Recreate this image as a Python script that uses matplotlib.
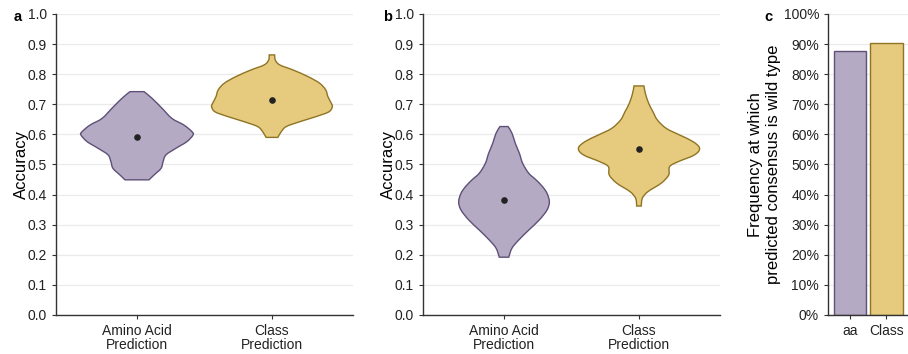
import numpy as np
import matplotlib.pyplot as plt
from matplotlib.path import Path
from matplotlib.patches import PathPatch
from matplotlib.ticker import PercentFormatter

plt.rcParams['font.family'] = ['Liberation Sans', 'DejaVu Sans']

groups = ['Amino Acid\nPrediction', 'Class\nPrediction']
fills = ['#b5aac3', '#e6ca7e']
edges = ['#5e5077', '#8f7424']

# violin outlines: (accuracy, half width in x units)
a_aa_y = [0.742, 0.720, 0.687, 0.653, 0.631, 0.609, 0.598, 0.576, 0.554, 0.532, 0.509, 0.487, 0.465, 0.449]
a_aa_w = [0.052, 0.111, 0.185, 0.259, 0.348, 0.407, 0.415, 0.370, 0.289, 0.215, 0.193, 0.178, 0.126, 0.089]
a_cl_y = [0.864, 0.847, 0.831, 0.814, 0.792, 0.770, 0.748, 0.725, 0.703, 0.692, 0.675, 0.659, 0.642, 0.626, 0.609, 0.590]
a_cl_w = [0.020, 0.025, 0.057, 0.156, 0.267, 0.353, 0.398, 0.415, 0.440, 0.447, 0.422, 0.326, 0.205, 0.106, 0.069, 0.044]
b_aa_y = [0.626, 0.604, 0.570, 0.537, 0.504, 0.471, 0.449, 0.426, 0.404, 0.376, 0.349, 0.316, 0.282, 0.249, 0.222, 0.192]
b_aa_w = [0.030, 0.059, 0.084, 0.114, 0.138, 0.183, 0.237, 0.286, 0.319, 0.336, 0.319, 0.262, 0.183, 0.109, 0.059, 0.035]
b_cl_y = [0.761, 0.737, 0.703, 0.675, 0.648, 0.620, 0.598, 0.576, 0.554, 0.532, 0.509, 0.493, 0.465, 0.438, 0.410, 0.388, 0.362]
b_cl_w = [0.037, 0.047, 0.072, 0.104, 0.136, 0.202, 0.301, 0.400, 0.449, 0.412, 0.289, 0.227, 0.220, 0.165, 0.067, 0.025, 0.017]

a_means = [0.592, 0.713]
b_means = [0.382, 0.551]

bar_labels = ['aa', 'Class']
bar_vals = [0.878, 0.905]

fig = plt.figure(figsize=(9.08, 3.54), dpi=100)
ax_a = fig.add_axes([0.0617, 0.1102, 0.327, 0.8503])
ax_b = fig.add_axes([0.4659, 0.1102, 0.327, 0.8503])
ax_c = fig.add_axes([0.912, 0.1102, 0.088, 0.8503])


def style(ax):
    for s in ['top', 'right']:
        ax.spines[s].set_visible(False)
    for s in ['left', 'bottom']:
        ax.spines[s].set_color('#333333')
        ax.spines[s].set_linewidth(1.0)
    ax.set_ylim(0, 1)
    ax.set_yticks(np.arange(0, 1.01, 0.1))
    ax.grid(axis='y', color='#ebebeb', lw=0.9)
    ax.set_axisbelow(True)
    ax.tick_params(length=3, width=0.8, color='#333333', labelsize=10, labelcolor='#222222')


def smooth_side(pts):
    # catmull-rom through the read points, as bezier segments
    verts, codes = [], []
    n = len(pts)
    for k in range(n - 1):
        p0 = pts[max(k - 1, 0)]
        p1 = pts[k]
        p2 = pts[k + 1]
        p3 = pts[min(k + 2, n - 1)]
        c1 = p1 + (p2 - p0) / 6
        c2 = p2 - (p3 - p1) / 6
        verts += [c1, c2, p2]
        codes += [Path.CURVE4] * 3
    return verts, codes


def violins(ax, outlines, means):
    for i, (ys, ws) in enumerate(outlines):
        ys = np.array(ys)
        ws = np.array(ws)
        right = np.column_stack([i + ws, ys])
        left = np.column_stack([i - ws, ys])[::-1]
        verts = [right[0]]
        codes = [Path.MOVETO]
        v, c = smooth_side(right)
        verts += v
        codes += c
        verts.append(left[0])
        codes.append(Path.LINETO)
        v, c = smooth_side(left)
        verts += v
        codes += c
        verts.append(right[0])
        codes.append(Path.CLOSEPOLY)
        ax.add_patch(PathPatch(Path(verts, codes), facecolor=fills[i], edgecolor=edges[i], lw=1.0))
    ax.scatter(range(len(means)), means, s=14, color='#222222', zorder=3)
    ax.set_xlim(-0.6, 1.6)
    ax.set_xticks(range(len(groups)))
    ax.set_xticklabels(groups, fontsize=10, linespacing=1.0)
    ax.set_yticklabels(['%.1f' % v for v in np.arange(0, 1.01, 0.1)])
    ax.set_ylabel('Accuracy', fontsize=12, labelpad=-1)


for ax in (ax_a, ax_b, ax_c):
    style(ax)

violins(ax_a, [(a_aa_y, a_aa_w), (a_cl_y, a_cl_w)], a_means)
violins(ax_b, [(b_aa_y, b_aa_w), (b_cl_y, b_cl_w)], b_means)

ax_c.bar(range(len(bar_vals)), bar_vals, width=0.9, color=fills, edgecolor=edges, lw=1.0)
ax_c.set_xlim(-0.6, 1.6)
ax_c.set_xticks(range(len(bar_labels)))
ax_c.set_xticklabels(bar_labels)
ax_c.yaxis.set_major_formatter(PercentFormatter(1.0, decimals=0))
ax_c.set_ylabel('Frequency at which\npredicted consensus is wild type', fontsize=12, labelpad=2)

fig.text(14 / 908, 1 - 17 / 354, 'a', fontsize=10.5, fontweight='bold', ha='left', va='center')
fig.text(383 / 908, 1 - 17 / 354, 'b', fontsize=10.5, fontweight='bold', ha='left', va='center')
fig.text(764 / 908, 1 - 17 / 354, 'c', fontsize=10.5, fontweight='bold', ha='left', va='center')

fig.savefig('out.png', dpi=100)
